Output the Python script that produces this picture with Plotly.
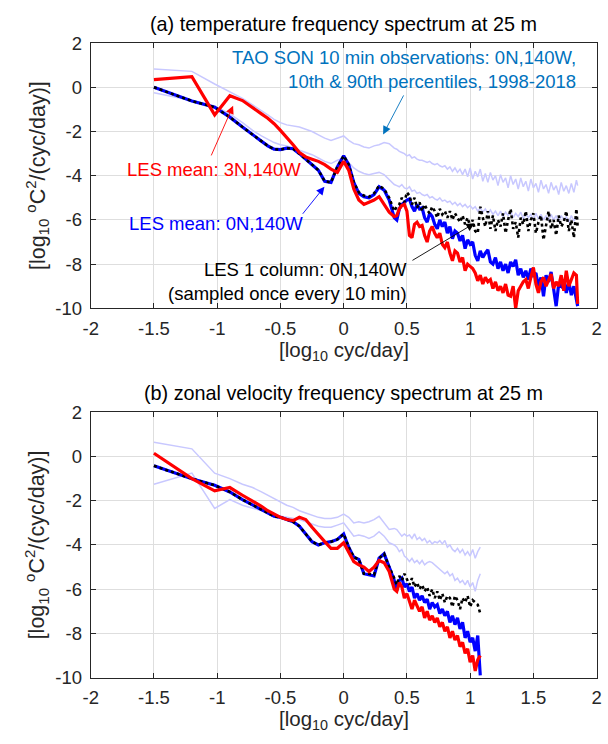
import plotly.graph_objects as go

# ---------------- data (log10 frequency in cyc/day, log10 spectral density) -------------
x_low = [-1.5, -1.2, -1.02, -0.9, -0.8, -0.72, -0.65, -0.6, -0.55, -0.5,
         -0.45, -0.4, -0.35, -0.3, -0.25, -0.2, -0.15, -0.1, -0.05, 0.0,
         0.04, 0.08, 0.12, 0.16, 0.2, 0.24, 0.28, 0.32, 0.36, 0.4]

x_high_a = [0.42, 0.44, 0.46, 0.48, 0.50, 0.52, 0.54, 0.56, 0.58, 0.60,
            0.62, 0.64, 0.66, 0.68, 0.70, 0.72, 0.74, 0.76, 0.78, 0.80,
            0.82, 0.84, 0.86, 0.88, 0.90, 0.92, 0.94, 0.96, 0.98, 1.00,
            1.02, 1.04, 1.06, 1.08, 1.10, 1.12, 1.14, 1.16, 1.18, 1.20,
            1.22, 1.24, 1.26, 1.28, 1.30, 1.32, 1.34, 1.36, 1.38, 1.40,
            1.42, 1.44, 1.46, 1.48, 1.50, 1.52, 1.54, 1.56, 1.58, 1.60,
            1.62, 1.64, 1.66, 1.68, 1.70, 1.72, 1.74, 1.76, 1.78, 1.80,
            1.82, 1.84, 1.85]

x_high_b = [0.42, 0.44, 0.46, 0.48, 0.50, 0.52, 0.54, 0.56, 0.58, 0.60,
            0.62, 0.64, 0.66, 0.68, 0.70, 0.72, 0.74, 0.76, 0.78, 0.80,
            0.82, 0.84, 0.86, 0.88, 0.90, 0.92, 0.94, 0.96, 0.98, 1.00,
            1.02, 1.04, 1.06, 1.08]

# ---- panel (a): temperature ----
a_blue_low = [0.0, -0.62, -0.9, -1.35, -1.8, -2.15, -2.45, -2.65, -2.8, -2.82,
              -2.75, -2.78, -3.0, -3.25, -3.5, -3.75, -4.25, -4.3, -3.6, -3.1,
              -3.5, -4.3, -4.8, -4.95, -5.0, -4.85, -4.5, -4.65, -5.1, -5.9]
a_blue_high = [-6.0, -5.5, -5.3, -5.2, -5.1, -5.05, -5.4, -5.6, -5.3, -5.5,
               -5.45, -5.9, -6.1, -5.7, -5.85, -6.2, -6.4, -6.0, -6.3, -6.1,
               -6.6, -6.3, -6.85, -6.5, -6.6, -6.95, -6.7, -7.3, -6.9, -7.1,
               -7.0, -7.6, -7.85, -7.4, -7.7, -7.5, -7.35, -7.9, -8.0, -7.7,
               -8.2, -7.9, -8.3, -8.0, -8.4, -7.9, -8.1, -7.8, -8.5, -8.2,
               -8.6, -8.3, -8.7, -8.2, -8.5, -8.4, -9.0, -8.6, -9.45, -8.5,
               -8.8, -8.35, -9.2, -9.9, -8.9, -9.0, -8.7, -9.3, -8.8, -9.4,
               -9.0, -9.6, -9.9]

a_red_low = [0.35, 0.48, -1.25, -0.38, -0.6, -0.9, -1.2, -1.4, -1.65, -1.95,
             -2.25, -2.6, -2.95, -3.15, -3.25, -3.35, -3.5, -3.7, -3.85, -3.35,
             -3.75, -4.6, -5.1, -5.3, -5.2, -5.1, -4.95, -5.3, -5.65, -5.85]
a_red_high = [-5.8, -5.5, -5.35, -5.3, -5.6, -6.7, -6.8, -6.2, -6.1, -6.3,
              -6.25, -6.7, -7.0, -6.5, -6.3, -6.6, -6.8, -6.6, -7.1, -7.25,
              -7.0, -7.5, -7.85, -7.4, -7.5, -7.9, -7.7, -8.3, -8.0, -8.1,
              -8.2, -8.4, -8.75, -8.5, -8.9, -8.6, -8.8, -8.7, -9.1, -8.8,
              -9.2, -9.0, -9.3, -8.9, -9.4, -9.45, -9.0, -10.0, -9.2, -9.0,
              -8.8, -8.7, -9.1, -8.6, -8.15, -8.9, -9.3, -8.8, -8.6, -9.0,
              -8.7, -8.45, -9.1, -8.8, -9.0, -8.5, -9.2, -8.3, -9.0, -8.7,
              -8.4, -8.5, -9.8]

a_col_low = [0.0, -0.62, -0.9, -1.35, -1.8, -2.15, -2.45, -2.65, -2.8, -2.82,
             -2.75, -2.78, -3.0, -3.25, -3.5, -3.75, -4.25, -4.3, -3.6, -3.1,
             -3.5, -4.3, -4.75, -4.9, -4.95, -4.8, -4.45, -4.6, -5.0, -5.6]
a_col_high = [-5.4, -5.3, -5.0, -5.2, -4.75, -4.9, -5.3, -5.0, -5.45, -5.2,
              -5.6, -5.3, -5.55, -5.7, -5.4, -5.6, -5.9, -5.5, -5.75, -5.6,
              -5.9, -5.6, -6.0, -5.7, -5.9, -6.1, -5.8, -6.2, -5.9, -6.3,
              -6.0, -6.5, -6.6, -5.4, -5.9, -6.3, -5.6, -6.4, -5.8, -6.5,
              -6.0, -6.3, -5.7, -6.6, -6.0, -5.5, -6.4, -6.1, -6.8, -5.9,
              -6.2, -5.6, -6.5, -6.0, -5.7, -6.6, -6.1, -5.8, -6.9, -6.2,
              -5.6, -6.4, -6.0, -6.7, -5.8, -6.3, -6.1, -5.6, -6.5, -6.0,
              -6.8, -5.5, -6.3]

a_tao90_low = [0.83, 0.72, 0.15, -0.2, -0.5, -0.8, -1.05, -1.25, -1.45, -1.6,
               -1.7, -1.75, -1.8, -1.9, -2.0, -2.15, -2.3, -2.4, -2.3, -2.2,
               -2.4, -2.55, -2.6, -2.7, -2.75, -2.65, -2.6, -2.5, -2.55, -2.75]
a_tao90_high = [-2.8, -2.9, -2.95, -3.0, -3.1, -3.05, -3.2, -3.15, -3.25, -3.3,
                -3.3, -3.35, -3.4, -3.35, -3.45, -3.5, -3.45, -3.55, -3.6, -3.55,
                -3.7, -3.6, -3.8, -3.65, -3.85, -3.7, -3.95, -3.7, -4.05, -3.65,
                -4.15, -3.8, -4.05, -3.7, -4.25, -3.9, -4.3, -3.85, -4.2, -4.0,
                -4.45, -3.95, -4.3, -4.1, -4.55, -4.0, -4.4, -4.15, -4.6, -4.1,
                -4.5, -4.25, -4.7, -4.15, -4.55, -4.35, -4.75, -4.2, -4.6, -4.4,
                -4.8, -4.3, -4.65, -4.45, -4.85, -4.3, -4.7, -4.45, -4.8, -4.35,
                -4.75, -4.2, -4.45]

a_tao10_low = [-0.25, -0.6, -0.85, -1.2, -1.6, -1.95, -2.2, -2.35, -2.5, -2.6,
               -2.65, -2.75, -2.85, -2.95, -3.05, -3.2, -3.35, -3.45, -3.3, -3.2,
               -3.4, -3.65, -3.8, -3.9, -3.95, -3.9, -3.85, -3.95, -4.2, -4.4]
a_tao10_high = [-4.45, -4.5, -4.4, -4.55, -4.6, -4.5, -4.7, -4.65, -4.8, -4.75,
                -4.85, -4.9, -4.85, -5.0, -4.95, -5.05, -5.1, -5.0, -5.15, -5.1,
                -5.2, -5.15, -5.3, -5.2, -5.35, -5.25, -5.4, -5.3, -5.45, -5.35,
                -5.5, -5.4, -5.6, -5.45, -5.65, -5.5, -5.7, -5.55, -5.75, -5.6,
                -5.8, -5.6, -5.85, -5.65, -5.8, -5.6, -5.9, -5.7, -5.85, -5.65,
                -5.95, -5.7, -5.9, -5.75, -6.0, -5.7, -5.95, -5.75, -6.0, -5.8,
                -6.05, -5.75, -6.0, -5.8, -6.1, -5.8, -6.0, -5.85, -6.1, -5.8,
                -6.05, -5.85, -5.95]

# ---- panel (b): zonal velocity ----
b_blue_low = [-0.42, -1.0, -1.3, -1.6, -1.95, -2.2, -2.4, -2.55, -2.7, -2.75,
              -2.85, -2.95, -3.15, -3.5, -3.85, -4.0, -3.9, -3.85, -3.75, -3.5,
              -4.1, -4.55, -4.65, -5.3, -5.35, -5.4, -4.6, -4.4, -5.0, -5.6]
b_blue_high = [-6.05, -5.6, -5.5, -5.9, -5.75, -6.1, -5.9, -6.4, -6.2, -6.5,
               -6.3, -6.6, -6.45, -6.9, -6.6, -6.8, -6.7, -7.1, -6.9, -7.2,
               -7.0, -7.5, -7.2, -7.6, -7.3, -7.8, -7.5, -8.2, -7.9, -8.4,
               -8.2, -8.8, -8.1, -9.9]

b_red_low = [0.15, -1.0, -1.55, -1.4, -1.75, -2.0, -2.25, -2.45, -2.6, -2.75,
             -2.85, -2.9, -2.75, -2.85, -3.2, -3.55, -3.85, -4.15, -4.15, -3.9,
             -4.3, -4.75, -4.9, -5.0, -5.2, -5.0, -4.7, -4.8, -5.2, -6.0]
b_red_high = [-6.1, -5.7, -5.9, -6.4, -6.2, -6.6, -6.9, -6.5, -6.8, -7.0,
              -6.8, -7.3, -7.0, -7.4, -7.2, -7.5, -7.3, -7.7, -7.5, -7.9,
              -7.7, -8.2, -7.9, -8.3, -8.1, -8.6, -8.4, -8.9, -8.7, -9.3,
              -9.0, -9.7, -9.2, -9.0]

b_col_low = [-0.42, -1.0, -1.3, -1.6, -1.95, -2.2, -2.4, -2.55, -2.7, -2.75,
             -2.85, -2.95, -3.15, -3.5, -3.85, -4.0, -3.9, -3.85, -3.75, -3.5,
             -4.1, -4.55, -4.65, -5.3, -5.3, -5.35, -4.6, -4.4, -5.0, -5.5]
b_col_high = [-5.8, -5.4, -5.6, -5.3, -5.55, -5.8, -5.5, -5.9, -5.7, -6.0,
              -5.8, -6.1, -5.9, -6.3, -6.0, -6.4, -6.1, -6.5, -6.2, -6.6,
              -6.3, -6.4, -6.8, -6.3, -6.5, -6.9, -6.4, -6.6, -6.3, -6.8,
              -6.5, -6.6, -6.7, -7.1]

b_tao90_low = [0.65, 0.35, -0.75, -1.0, -1.25, -1.4, -1.6, -1.75, -1.9, -2.05,
               -2.2, -2.3, -2.45, -2.55, -2.65, -2.75, -2.8, -2.8, -2.75, -2.6,
               -2.75, -3.0, -2.95, -3.0, -2.95, -2.85, -2.7, -3.0, -3.3, -3.25]
b_tao90_high = [-3.3, -3.45, -3.6, -3.5, -3.6, -3.55, -3.7, -3.5, -3.75, -3.65,
                -3.8, -3.7, -3.9, -3.8, -3.95, -3.85, -3.9, -3.8, -3.95, -3.8,
                -4.1, -4.0, -4.2, -4.3, -4.15, -4.35, -4.2, -4.45, -4.3, -4.5,
                -4.2, -4.6, -4.3, -4.1]

b_tao10_low = [-1.25, -0.75, -2.35, -1.95, -2.2, -2.35, -2.45, -2.5, -2.6, -2.7,
               -2.75, -2.8, -2.85, -2.95, -3.05, -3.15, -3.2, -3.2, -3.1, -3.0,
               -3.3, -3.6, -3.55, -3.6, -3.7, -3.6, -3.4, -3.6, -3.9, -4.0]
b_tao10_high = [-4.1, -4.3, -4.2, -4.5, -4.6, -4.75, -4.6, -4.8, -4.7, -4.85,
                -4.7, -4.9, -4.8, -4.75, -4.8, -4.9, -5.0, -5.1, -5.2, -5.3,
                -5.2, -5.4, -5.3, -5.6, -5.5, -5.7, -5.6, -5.8, -5.6, -5.9,
                -5.7, -6.1, -5.6, -5.3]

x_ticks = [-2, -1.5, -1, -0.5, 0, 0.5, 1, 1.5, 2]
x_ticktext = ["-2", "-1.5", "-1", "-0.5", "0", "0.5", "1", "1.5", "2"]
y_ticks = [-10, -8, -6, -4, -2, 0, 2]
y_ticktext = ["-10", "-8", "-6", "-4", "-2", "0", "2"]

titles = ["(a) temperature frequency spectrum at 25 m",
          "(b) zonal velocity frequency spectrum at 25 m"]
y_label = "[log<sub>10</sub> <sup>o</sup>C<sup>2</sup>/(cyc/day)]"
x_label = "[log<sub>10</sub> cyc/day]"

# ---------------- styling ----------------
W, H = 608, 744
FONT = "Liberation Sans, Arial, Helvetica, sans-serif"
TXT = "#262626"
LAV = "rgb(200,200,255)"
TAO_BLUE = "rgb(0,114,189)"
X0, X1 = 84.5, 601.5
PANELS = [(33.0, 306.0), (413.0, 686.0)]


def px(x):
    return x / W


def py(y):
    return 1 - y / H


fig = go.Figure()

panel_data = [
    (x_low + x_high_a, a_tao90_low + a_tao90_high, a_tao10_low + a_tao10_high,
     a_blue_low + a_blue_high, a_col_low + a_col_high, a_red_low + a_red_high),
    (x_low + x_high_b, b_tao90_low + b_tao90_high, b_tao10_low + b_tao10_high,
     b_blue_low + b_blue_high, b_col_low + b_col_high, b_red_low + b_red_high),
]

for i, (xs, t90, t10, blue, col, red) in enumerate(panel_data):
    xa = "x" if i == 0 else "x2"
    ya = "y" if i == 0 else "y2"
    common = dict(xaxis=xa, yaxis=ya, mode="lines", hoverinfo="skip", showlegend=False)
    fig.add_trace(go.Scatter(x=xs, y=t90, line=dict(color=LAV, width=1.5), **common))
    fig.add_trace(go.Scatter(x=xs, y=t10, line=dict(color=LAV, width=1.5), **common))
    fig.add_trace(go.Scatter(x=xs, y=blue, line=dict(color="#0000ff", width=3.2), **common))
    fig.add_trace(go.Scatter(x=xs, y=col, line=dict(color="#000000", width=2.6, dash="dot"), **common))
    fig.add_trace(go.Scatter(x=xs, y=red, line=dict(color="#ff0000", width=3.2), **common))

axis_common = dict(
    showgrid=True, gridcolor="#dedede", gridwidth=1, zeroline=False,
    showline=True, linecolor=TXT, linewidth=1, mirror="ticks",
    ticks="inside", ticklen=5, tickcolor=TXT,
    tickfont=dict(family=FONT, size=18.5, color=TXT),
)

layout = dict(
    width=W, height=H, margin=dict(l=0, r=0, t=0, b=0),
    paper_bgcolor="white", plot_bgcolor="white", showlegend=False,
    font=dict(family=FONT, color=TXT),
)
for i, (top, bot) in enumerate(PANELS):
    sx = "" if i == 0 else "2"
    layout["xaxis" + sx] = dict(
        domain=[px(X0), px(X1)], range=[-2, 2], tickvals=x_ticks, ticktext=x_ticktext,
        anchor="y" + sx, ticklabelstandoff=3, **axis_common)
    layout["yaxis" + sx] = dict(
        domain=[py(bot), py(top)], range=[-10, 2], tickvals=y_ticks, ticktext=y_ticktext,
        anchor="x" + sx, ticklabelstandoff=4, **axis_common)
fig.update_layout(**layout)

ann = []
for i, (top, bot) in enumerate(PANELS):
    ann.append(dict(text=titles[i], x=px((X0 + X1) / 2), y=py(top - 20), xref="paper", yref="paper",
                    xanchor="center", yanchor="middle", showarrow=False,
                    font=dict(family=FONT, size=19.8, color="#000000")))
    ann.append(dict(text=y_label, x=px(30), y=py((top + bot) / 2), xref="paper", yref="paper",
                    xanchor="center", yanchor="middle", textangle=-90, showarrow=False,
                    font=dict(family=FONT, size=21.5, color=TXT)))
    ann.append(dict(text=x_label, x=px((X0 + X1) / 2), y=py(bot + 44), xref="paper", yref="paper",
                    xanchor="center", yanchor="middle", showarrow=False,
                    font=dict(family=FONT, size=20.5, color=TXT)))

# panel (a) text labels (data coordinates)
ann.append(dict(text="TAO SON 10 min observations: 0N,140W,<br>10th &amp; 90th percentiles, 1998-2018",
                x=1.849, y=0.80, xref="x", yref="y", xanchor="right", yanchor="middle", align="right",
                showarrow=False, font=dict(family=FONT, size=18.5, color=TAO_BLUE)))
ann.append(dict(text="LES mean: 3N,140W", x=-1.028, y=-3.72, xref="x", yref="y",
                xanchor="center", yanchor="middle", showarrow=False,
                font=dict(family=FONT, size=18.5, color="#ff0000")))
ann.append(dict(text="LES mean: 0N,140W", x=-1.013, y=-6.14, xref="x", yref="y",
                xanchor="center", yanchor="middle", showarrow=False,
                font=dict(family=FONT, size=18.5, color="#0000ff")))
ann.append(dict(text="LES 1 column: 0N,140W<br>(sampled once every 10 min)", x=0.514, y=-8.78,
                xref="x", yref="y", xanchor="right", yanchor="middle", align="right",
                showarrow=False, font=dict(family=FONT, size=18.5, color="#000000")))

# arrows: (head x, head y, tail x, tail y, color)
arrows = [
    (0.312, -2.13, 0.48, -0.30, TAO_BLUE),
    (-0.874, -0.835, -1.052, -3.15, "#ff0000"),
    (-0.152, -4.5, -0.333, -5.79, "#0000ff"),
    (1.034, -6.15, 0.532, -7.87, "#000000"),
]
for hx, hy, tx, ty, c in arrows:
    ann.append(dict(text="", x=hx, y=hy, ax=tx, ay=ty, xref="x", yref="y", axref="x", ayref="y",
                    showarrow=True, arrowhead=2, arrowsize=1.8, arrowwidth=0.9, arrowcolor=c,
                    standoff=0, startstandoff=0))

fig.update_layout(annotations=ann)
fig.write_html("out.html")
